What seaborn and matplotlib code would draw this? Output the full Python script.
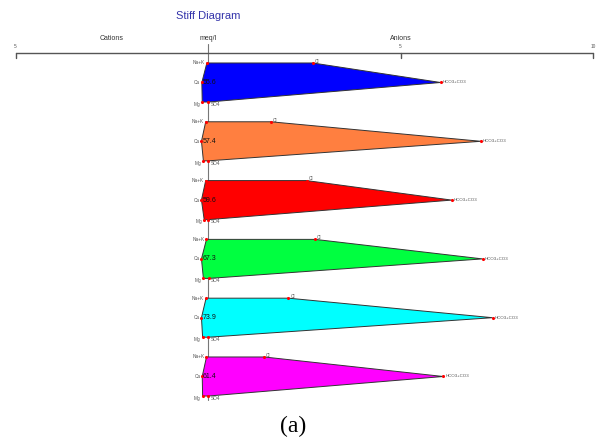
import numpy as np
import pandas as pd
import matplotlib
matplotlib.use("Agg")
import matplotlib.pyplot as plt
import seaborn as sns

# ---- data (meq/l) ----
sample_labels = ["55.6", "57.4", "59.6", "67.3", "73.9", "61.4"]
na_k = [0.03, 0.06, 0.06, 0.04, 0.05, 0.04]
ca = [0.16, 0.17, 0.17, 0.17, 0.17, 0.15]
mg = [0.15, 0.12, 0.10, 0.12, 0.14, 0.14]
cl = [2.72, 1.63, 2.56, 2.78, 2.09, 1.46]
hco3 = [6.04, 7.09, 6.33, 7.13, 7.39, 6.11]
so4 = [0.01, 0.01, 0.01, 0.02, 0.01, 0.01]
fill_colors = ["#0000FF", "#FF7F40", "#FF0000", "#00FF40", "#00FFFF", "#FF00FF"]
axis_ticks = [-5, 5, 10]
axis_tick_labels = ["5", "5", "10"]

sns.set_theme(style="white")
plt.rcParams['font.family'] = ['Liberation Sans', 'DejaVu Sans']

fig = plt.figure(figsize=(5.97, 4.40), dpi=100)
ax = fig.add_axes([0, 0, 1, 1])
ax.set_xlim(-5.403, 10.104)
ax.set_ylim(6.08, -1.403)
ax.axis('off')

off = 0.332  # row offset within a diagram
gray = "#555555"

# center vertical line
ax.plot([0, 0], [-0.65, 5.4], color="#777777", lw=0.8, zorder=1)

rows = []
for i in range(len(sample_labels)):
    ys = [i - off, i, i + off, i + off, i, i - off]
    xs = [-na_k[i], -ca[i], -mg[i], so4[i], hco3[i], cl[i]]
    ax.fill(xs, ys, facecolor=fill_colors[i], edgecolor="#333333", lw=0.7, zorder=2)
    for x, y in zip(xs, ys):
        rows.append({"x": x, "y": y})
    fs = 3.4
    ax.text(-na_k[i] - 0.05, i - off, "Na+K", ha="right", va="center", fontsize=fs, color=gray, zorder=4)
    ax.text(-ca[i] - 0.05, i, "Ca", ha="right", va="center", fontsize=fs, color=gray, zorder=4)
    ax.text(-mg[i] - 0.05, i + off + 0.04, "Mg", ha="right", va="center", fontsize=fs, color=gray, zorder=4)
    ax.text(so4[i] + 0.05, i + off + 0.04, "SO4", ha="left", va="center", fontsize=fs, color=gray, zorder=4)
    ax.text(cl[i] + 0.05, i - off - 0.03, "Cl", ha="left", va="center", fontsize=fs, color=gray, zorder=4)
    ax.text(hco3[i] + 0.05, i, "HCO3+CO3", ha="left", va="center", fontsize=3.2, color=gray, zorder=4)
    ax.text(0.03, i, sample_labels[i], ha="center", va="center", fontsize=5, color="#111111", zorder=5)

pts = pd.DataFrame(rows)
sns.scatterplot(data=pts, x="x", y="y", ax=ax, color="#FF0000", s=5, linewidth=0, zorder=3, legend=False)

# top axis
ya = -0.5017
ax.plot([-5, 10], [ya, ya], color=gray, lw=1.0, zorder=1)
for t, lab in zip(axis_ticks, axis_tick_labels):
    ax.plot([t, t], [ya, ya + 0.08], color=gray, lw=1.0)
    ax.text(t, ya - 0.07, lab, ha="center", va="bottom", fontsize=3.4, color=gray)

ax.text(-2.5, -0.74, "Cations", ha="center", va="center", fontsize=5, color="#333333")
ax.text(0, -0.74, "meq/l", ha="center", va="center", fontsize=5, color="#333333")
ax.text(5, -0.74, "Anions", ha="center", va="center", fontsize=5, color="#333333")
ax.text(0, -1.13, "Stiff Diagram", ha="center", va="center", fontsize=8, color="#3333AA")

ax.text(2.21, 5.85, "(a)", ha="center", va="center", fontsize=17, color="black",
        family=["Liberation Serif", "DejaVu Serif"])

fig.savefig("out.png", dpi=100)
